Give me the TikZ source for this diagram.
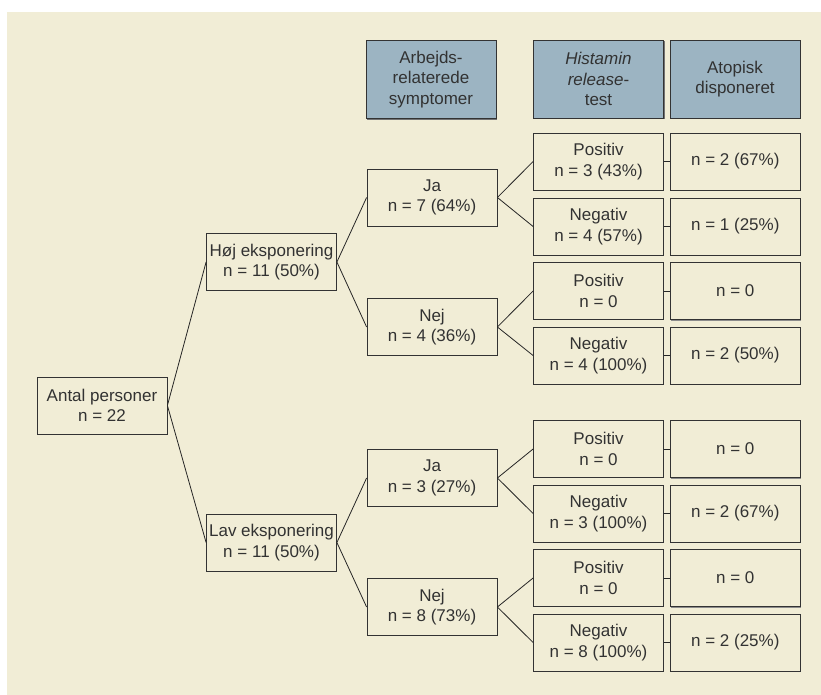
\documentclass[tikz,border=0pt]{standalone}
\usepackage{fontspec}
\setmainfont{Liberation Sans}
\usetikzlibrary{positioning,shadows}
\definecolor{cream}{RGB}{241,237,214}
\definecolor{hdrblue}{RGB}{156,180,194}
\definecolor{txtgray}{RGB}{50,50,50}

\begin{document}
\begin{tikzpicture}[
    x=1pt, y=-1pt,
    node distance=6pt,
    box/.style={rectangle, draw=black!80, line width=0.8pt, fill=cream, minimum width=130pt, minimum height=57pt, inner sep=0pt, align=center, text=txtgray, font=\fontsize{17}{20.5}\selectfont},
    hdr/.style={box, fill=hdrblue, minimum height=78pt, drop shadow={shadow xshift=1.2pt, shadow yshift=-1.2pt, fill=black!55, opacity=1}},
    atop/.style={box, drop shadow={shadow xshift=1pt, shadow yshift=-1pt, fill=black!45, opacity=1}},
    link/.style={line width=0.8pt, draw=black!85},
]
    \useasboundingbox (0,0) rectangle (821,695);
    \fill[cream] (7,12) rectangle (821,695);

    % --- Column headers ---
    \node[hdr] (hsym) at (431,79.5) {Arbejds-\\relaterede\\symptomer};
    \node[hdr] (hhist) at (598.5,79) {\textit{Histamin}\\\textit{release}-\\test};
    \node[hdr] (hatop) at (735,79) {Atopisk\\disponeret};

    % --- Root and exposure ---
    \node[box] (root) at (102,405.5) {Antal personer\\n = 22};
    \node[box] (hoj) at (271.5,262) {Høj eksponering\\n = 11 (50\%)};
    \node[box] (lav) at (271.5,542.5) {Lav eksponering\\n = 11 (50\%)};

    % --- Symptoms ---
    \node[box] (ja1) at (432,197.5) {Ja\\n = 7 (64\%)};
    \node[box] (nej1) at (432,327) {Nej\\n = 4 (36\%)};
    \node[box] (ja2) at (432,478) {Ja\\n = 3 (27\%)};
    \node[box] (nej2) at (432,607) {Nej\\n = 8 (73\%)};

    % --- Histamin release test ---
    \node[box] (pos1) at (598.5,161.5) {Positiv\\n = 3 (43\%)};
    \node[box] (neg1) at (598.5,226.5) {Negativ\\n = 4 (57\%)};
    \node[box] (pos2) at (598.5,291) {Positiv\\n = 0};
    \node[box] (neg2) at (598.5,355.5) {Negativ\\n = 4 (100\%)};
    \node[box] (pos3) at (598.5,449) {Positiv\\n = 0};
    \node[box] (neg3) at (598.5,513.5) {Negativ\\n = 3 (100\%)};
    \node[box] (pos4) at (598.5,578) {Positiv\\n = 0};
    \node[box] (neg4) at (598.5,642.5) {Negativ\\n = 8 (100\%)};

    % --- Atopic ---
    \node[atop, right=of pos1] (apos1) {n = 2 (67\%)};
    \node[atop, right=of neg1] (aneg1) {n = 1 (25\%)};
    \node[atop, right=of pos2] (apos2) {n = 0};
    \node[atop, right=of neg2] (aneg2) {n = 2 (50\%)};
    \node[atop, right=of pos3] (apos3) {n = 0};
    \node[atop, right=of neg3] (aneg3) {n = 2 (67\%)};
    \node[atop, right=of pos4] (apos4) {n = 0};
    \node[atop, right=of neg4] (aneg4) {n = 2 (25\%)};

    % --- Connectors ---
    \draw[link] (root.east) -- (hoj.west);
    \draw[link] (root.east) -- (lav.west);
    \draw[link] (hoj.east) -- (ja1.west);
    \draw[link] (hoj.east) -- (nej1.west);
    \draw[link] (lav.east) -- (ja2.west);
    \draw[link] (lav.east) -- (nej2.west);

    \draw[link] (ja1.east) -- (pos1.west);
    \draw[link] (ja1.east) -- (neg1.west);
    \draw[link] (nej1.east) -- (pos2.west);
    \draw[link] (nej1.east) -- (neg2.west);
    \draw[link] (ja2.east) -- (pos3.west);
    \draw[link] (ja2.east) -- (neg3.west);
    \draw[link] (nej2.east) -- (pos4.west);
    \draw[link] (nej2.east) -- (neg4.west);

    \draw[link] (pos1.east) -- (apos1.west);
    \draw[link] (neg1.east) -- (aneg1.west);
    \draw[link] (pos2.east) -- (apos2.west);
    \draw[link] (neg2.east) -- (aneg2.west);
    \draw[link] (pos3.east) -- (apos3.west);
    \draw[link] (neg3.east) -- (aneg3.west);
    \draw[link] (pos4.east) -- (apos4.west);
    \draw[link] (neg4.east) -- (aneg4.west);

\end{tikzpicture}
\end{document}
